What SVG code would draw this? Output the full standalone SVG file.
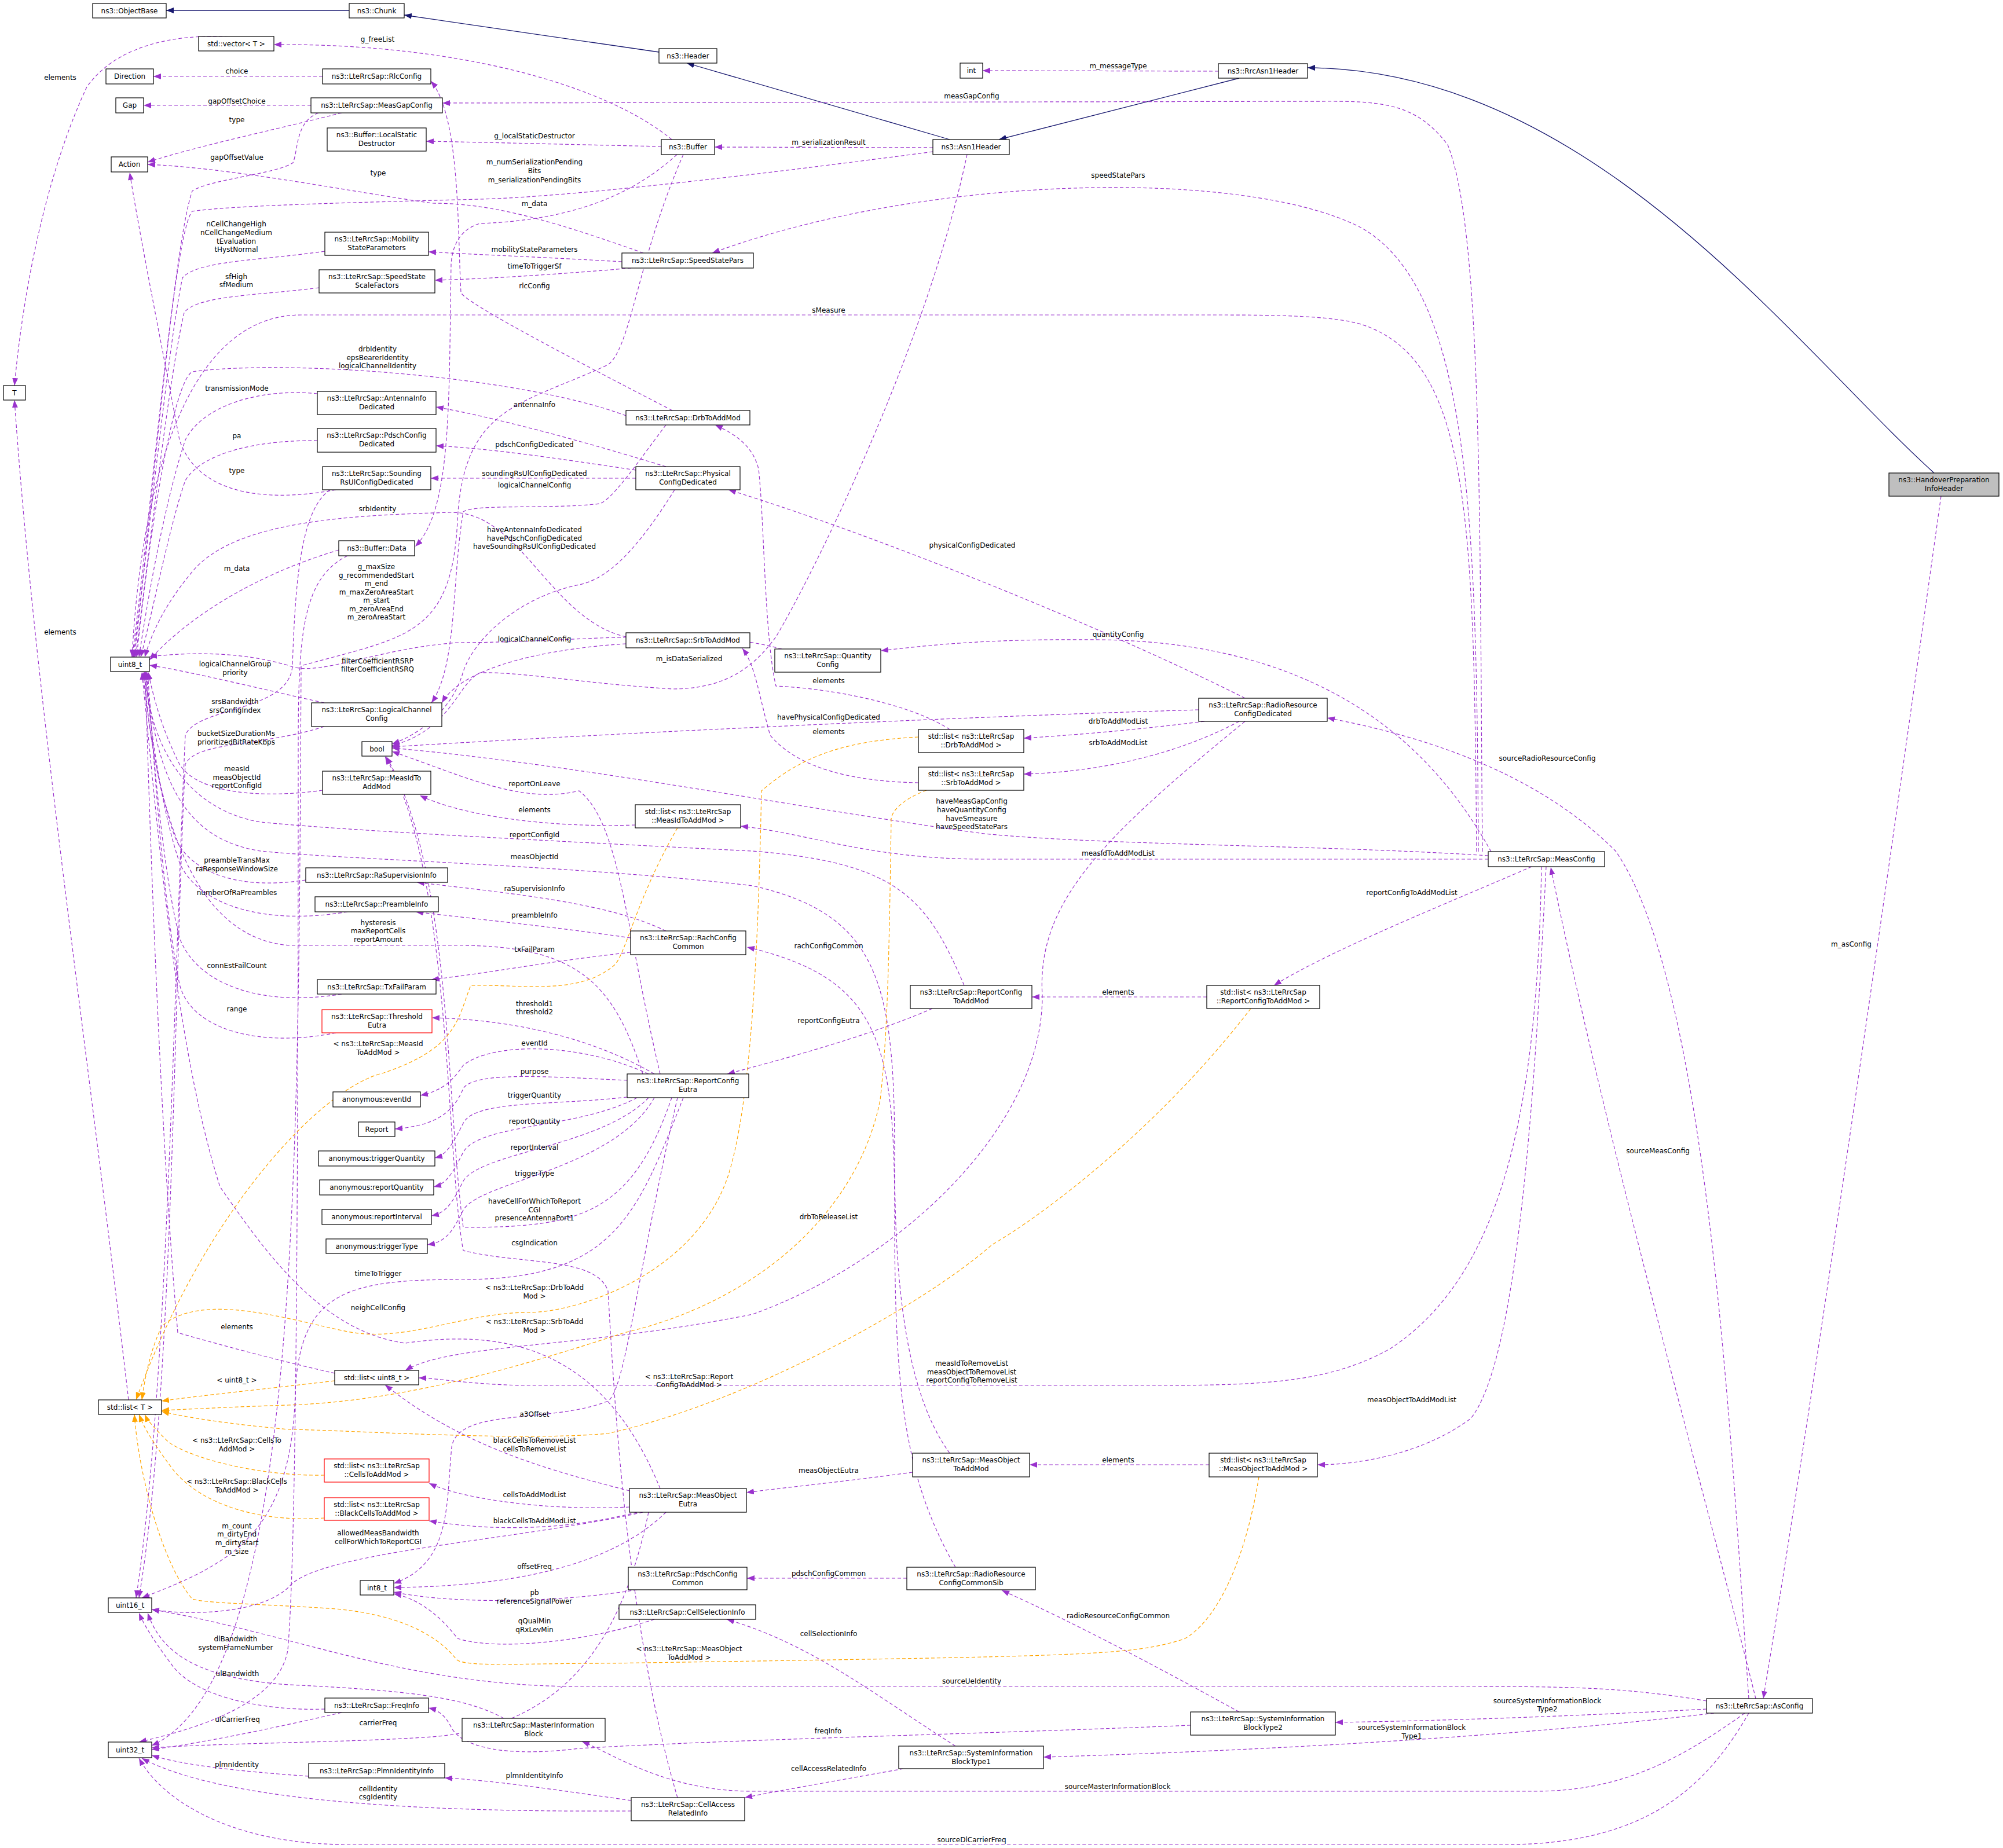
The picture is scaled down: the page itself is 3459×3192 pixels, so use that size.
<svg xmlns="http://www.w3.org/2000/svg" width="3459" height="3192" viewBox="0 0 3459 3192">
<style>
text{font-family:"DejaVu Sans","Liberation Sans",sans-serif;font-size:12px;fill:#000}
.nt{text-anchor:middle}
.l{text-anchor:middle}
rect{fill:#fff;stroke:#000;stroke-width:1.2}
rect.r{stroke:#ff0000}
rect.g{fill:#bfbfbf}
.e{fill:none;stroke:#9a32cd;stroke-width:1.2;stroke-dasharray:6,4;marker-end:url(#mp)}
.n{fill:none;stroke:#191970;stroke-width:1.3;marker-end:url(#mn)}
.o{fill:none;stroke:#ffa500;stroke-width:1.2;stroke-dasharray:6,4;marker-end:url(#mo)}
</style>
<defs>
<marker id="mp" markerUnits="userSpaceOnUse" markerWidth="14" markerHeight="10" refX="13" refY="5" orient="auto"><path d="M0,0L13,5L0,10z" fill="#9a32cd"/></marker>
<marker id="mn" markerUnits="userSpaceOnUse" markerWidth="14" markerHeight="10" refX="13" refY="5" orient="auto"><path d="M0,0L13,5L0,10z" fill="#191970"/></marker>
<marker id="mo" markerUnits="userSpaceOnUse" markerWidth="14" markerHeight="10" refX="13" refY="5" orient="auto"><path d="M0,0L13,5L0,10z" fill="#ffa500"/></marker>
</defs>
<rect x="0" y="0" width="3459" height="3192" style="fill:#fff;stroke:none"/>
<g id="edges">
<path class="n" d="M603,18L287,18"/>
<path class="n" d="M1138,90L698,26"/>
<path class="n" d="M1640,241L1186,109"/>
<path class="n" d="M2140,135L1725,241"/>
<path class="n" d="M3340,817C3100,600 2750,120 2258,117"/>
<path class="e" d="M2104,123L1697,122"/>
<path class="e" d="M3352,857C3290,1300 3150,2300 3045,2934"/>
<path class="e" d="M3032,2934C2950,2600 2780,2000 2678,1498"/>
<path class="e" d="M3020,2934C2990,2500 2950,1700 2790,1470C2650,1330 2450,1270 2292,1240"/>
<path class="e" d="M2947,2938C2800,2913 2700,2913 2500,2913L1000,2913C700,2913 500,2820 262,2780"/>
<path class="e" d="M2947,2952C2700,2965 2500,2972 2306,2975"/>
<path class="e" d="M2960,2959C2700,2990 2300,3020 1802,3035"/>
<path class="e" d="M3013,2959C2900,3040 2800,3094 2650,3094L1300,3094C1150,3094 1060,3030 1005,3008"/>
<path class="e" d="M3020,2959C2950,3080 2850,3186 2600,3186L600,3186C400,3186 280,3110 240,3037"/>
<path class="e" d="M2560,1471C2555,900 2560,400 2500,250C2450,185 2400,175 2300,175L764,178"/>
<path class="e" d="M2553,1471C2550,900 2540,500 2350,393C2150,290 1600,300 1230,437"/>
<path class="e" d="M2550,1471C2545,900 2540,620 2350,560C2300,545 2200,544 2100,544L520,544C300,544 240,900 228,1135"/>
<path class="e" d="M2575,1471C2480,1300 2300,1110 1900,1105C1700,1103 1600,1115 1521,1124"/>
<path class="e" d="M2570,1478C2300,1460 1900,1460 1700,1440C1400,1400 1000,1320 677,1292"/>
<path class="e" d="M2570,1484L1700,1484C1500,1484 1400,1440 1279,1427"/>
<path class="e" d="M2645,1497C2500,1560 2300,1640 2200,1702"/>
<path class="e" d="M2670,1497C2650,1900 2620,2350 2540,2450C2460,2510 2350,2530 2275,2530"/>
<path class="e" d="M2662,1497C2655,1900 2600,2200 2400,2330C2300,2385 2200,2393 2000,2393L900,2393C800,2390 760,2381 723,2380"/>
<path class="e" d="M2150,1206C1900,1080 1500,920 1258,846"/>
<path class="e" d="M2070,1226C1600,1240 1000,1270 677,1290"/>
<path class="e" d="M2080,1246C1950,1262 1850,1270 1768,1275"/>
<path class="e" d="M2140,1246C2000,1320 1850,1335 1768,1337"/>
<path class="e" d="M2150,1246C1900,1450 1790,1560 1800,1720C1800,1950 1550,2180 1300,2270C1000,2330 780,2320 700,2367"/>
<path class="e" d="M1640,1260C1580,1220 1450,1190 1340,1185C1320,1100 1320,900 1310,810C1300,770 1270,750 1235,734"/>
<path class="e" d="M1586,1352C1480,1350 1380,1330 1330,1270C1310,1200 1305,1150 1282,1120"/>
<path class="e" d="M1097,1425C950,1430 800,1410 725,1374"/>
<path class="e" d="M2084,1722L1782,1722"/>
<path class="e" d="M2088,2530L1778,2530"/>
<path class="e" d="M1610,1742C1500,1790 1350,1830 1256,1855"/>
<path class="e" d="M1576,2543C1450,2560 1350,2570 1289,2578"/>
<path class="e" d="M1566,2726L1290,2726"/>
<path class="e" d="M1650,2707C1560,2550 1545,2400 1545,2100C1545,1800 1520,1690 1290,1636"/>
<path class="e" d="M2140,2957C2000,2880 1850,2800 1730,2747"/>
<path class="e" d="M2056,2980C1700,2995 1300,3003 1000,3020C880,3035 800,3020 780,2985C770,2965 760,2955 740,2950"/>
<path class="e" d="M1650,3016C1500,2920 1400,2840 1255,2797"/>
<path class="e" d="M1560,3055C1450,3075 1350,3092 1286,3105"/>
<path class="e" d="M1090,3110C950,3090 850,3075 768,3071"/>
<path class="e" d="M1090,3128C800,3130 400,3120 245,3037"/>
<path class="e" d="M1170,3105C1080,2800 1060,2400 1050,2230C1030,2170 900,2185 800,2160C770,2000 780,1500 665,1307"/>
<path class="e" d="M533,3068C420,3060 320,3050 262,3032"/>
<path class="e" d="M590,2958C450,2990 350,3010 262,3022"/>
<path class="e" d="M561,2952C480,2955 350,2940 300,2880C270,2840 250,2810 240,2786"/>
<path class="e" d="M870,2968C800,2930 700,2920 500,2910C350,2900 280,2860 255,2786"/>
<path class="e" d="M1120,2612C1080,2800 1000,2980 746,3000C600,3010 400,3010 262,3019"/>
<path class="e" d="M1150,2612C1060,2700 900,2740 680,2742"/>
<path class="e" d="M1100,2746C950,2770 780,2770 680,2750"/>
<path class="e" d="M1130,2797C1000,2840 850,2850 790,2830C760,2790 720,2760 680,2753"/>
<path class="e" d="M1110,2612C900,2660 550,2680 500,2740C450,2790 320,2790 262,2780"/>
<path class="e" d="M1087,2603C950,2610 800,2590 741,2562"/>
<path class="e" d="M1100,2612C950,2650 820,2640 741,2627"/>
<path class="e" d="M1087,2575C950,2540 800,2500 665,2392"/>
<path class="e" d="M1170,1896C1100,2200 1080,2400 1050,2420C950,2460 790,2430 780,2500C770,2600 780,2700 680,2735"/>
<path class="e" d="M1140,2571C1050,2350 900,2290 700,2320C550,2300 450,2150 380,2050C300,1800 270,1400 245,1161"/>
<path class="e" d="M1180,1896C1100,2100 1060,2210 800,2210C600,2210 520,2230 510,2400C505,2650 400,2700 245,2760"/>
<path class="e" d="M1160,1896C1090,2100 1000,2120 800,2120C770,1900 780,1500 667,1307"/>
<path class="e" d="M1140,1855C1080,1600 1070,1420 1000,1366C900,1390 800,1340 677,1298"/>
<path class="e" d="M1130,1855C1000,1780 850,1760 746,1758"/>
<path class="e" d="M1120,1855C1000,1800 850,1800 800,1840C780,1870 760,1885 726,1892"/>
<path class="e" d="M1083,1866C950,1860 820,1850 800,1880C780,1930 740,1945 682,1950"/>
<path class="e" d="M1083,1895C950,1910 820,1900 800,1940C780,1980 770,1995 751,2000"/>
<path class="e" d="M1100,1896C1000,1950 830,1940 800,1990C780,2030 770,2045 749,2050"/>
<path class="e" d="M1120,1896C1040,1980 830,1990 800,2040C780,2080 770,2095 745,2100"/>
<path class="e" d="M1130,1896C1060,2020 830,2040 800,2090C780,2130 770,2145 738,2150"/>
<path class="e" d="M1110,1855C1060,1700 1000,1635 800,1633L500,1633C330,1620 270,1400 247,1161"/>
<path class="e" d="M1150,1608C1050,1560 900,1545 720,1524"/>
<path class="e" d="M1089,1620C950,1600 800,1585 718,1575"/>
<path class="e" d="M1089,1645C950,1660 850,1680 745,1692"/>
<path class="e" d="M528,1520C400,1540 320,1500 300,1440C270,1350 255,1250 249,1161"/>
<path class="e" d="M600,1575C450,1600 340,1560 310,1490C280,1400 262,1280 251,1161"/>
<path class="e" d="M590,1717C450,1740 340,1700 310,1620C280,1500 265,1300 253,1161"/>
<path class="e" d="M580,1784C450,1810 330,1780 310,1700C280,1550 265,1300 255,1161"/>
<path class="e" d="M557,1365C450,1380 340,1370 310,1320C285,1270 268,1220 256,1161"/>
<path class="e" d="M1665,1702C1600,1550 1550,1490 1300,1470C1000,1455 600,1435 450,1420C330,1400 260,1300 250,1161"/>
<path class="e" d="M1640,2510C1560,2400 1545,2200 1545,2000C1545,1700 1520,1580 1300,1530C1000,1495 600,1485 450,1470C320,1450 270,1350 252,1161"/>
<path class="e" d="M560,1214C450,1190 330,1160 258,1149"/>
<path class="e" d="M560,1255C450,1290 340,1280 320,1320C300,1700 300,2400 240,2760"/>
<path class="e" d="M570,846C520,880 510,1000 505,1150C500,1230 340,1220 320,1270C300,1700 290,2400 235,2760"/>
<path class="e" d="M580,846C450,870 340,850 310,760C280,600 240,400 224,298"/>
<path class="e" d="M590,195C450,230 350,250 255,280"/>
<path class="e" d="M537,182L248,182"/>
<path class="e" d="M550,195C510,210 515,260 506,281C480,300 360,310 332,330C300,420 260,900 232,1135"/>
<path class="e" d="M557,132L265,132"/>
<path class="e" d="M1161,709C950,600 800,520 796,505C790,400 795,200 744,140"/>
<path class="e" d="M1081,718C900,650 500,620 332,642C300,660 260,900 236,1135"/>
<path class="e" d="M1150,734C1100,800 1060,860 1036,870C950,880 820,870 800,884C780,1000 790,1150 745,1214"/>
<path class="e" d="M1081,1112C950,1120 800,1150 763,1214"/>
<path class="e" d="M1081,1100C950,1070 900,885 780,885C600,890 400,900 330,990C280,1050 260,1100 250,1135"/>
<path class="e" d="M1150,806C1000,760 850,720 753,703"/>
<path class="e" d="M1098,812C950,790 850,775 753,770"/>
<path class="e" d="M1098,826L744,826"/>
<path class="e" d="M1165,846C1100,950 1050,1000 1000,1010C900,1030 820,1100 800,1160C780,1230 720,1270 677,1285"/>
<path class="e" d="M548,680C450,670 350,700 320,760C290,850 260,1000 240,1135"/>
<path class="e" d="M548,761C450,760 350,780 320,830C295,900 265,1050 243,1135"/>
<path class="e" d="M561,434C450,450 340,450 315,480C290,600 255,950 230,1135"/>
<path class="e" d="M551,497C450,510 340,510 318,540C292,650 258,950 234,1135"/>
<path class="e" d="M1074,452C950,445 830,440 740,435"/>
<path class="e" d="M1090,463C950,475 830,482 751,484"/>
<path class="e" d="M1111,437C950,380 850,351 746,351C600,330 400,290 255,284"/>
<path class="e" d="M1142,253C1000,250 850,246 736,244"/>
<path class="e" d="M1160,241C1050,150 800,75 473,77"/>
<path class="e" d="M1169,267C1100,330 1000,380 829,386C780,400 780,450 779,456C775,700 780,880 717,944"/>
<path class="e" d="M1180,267C1100,450 1090,600 1050,630C900,700 800,700 790,900C780,1100 700,1100 520,1150C515,2000 520,2900 262,3015"/>
<path class="e" d="M1611,255L1234,254"/>
<path class="e" d="M1611,262C1400,290 1000,340 829,344C600,350 400,355 332,365C300,400 260,900 228,1135"/>
<path class="e" d="M1670,267C1600,600 1400,1000 1340,1100C1300,1155 1250,1190 1161,1190C1000,1180 900,1160 829,1162C790,1180 780,1260 677,1288"/>
<path class="e" d="M585,950C450,990 330,1060 258,1140"/>
<path class="e" d="M600,960C520,1000 515,1100 515,1300C515,2200 510,2700 497,2850C480,2950 320,2990 240,3009"/>
<path class="e" d="M1350,1121C1200,1080 1000,1110 790,1110C650,1120 550,1170 500,1150C400,1120 300,1130 258,1134"/>
<path class="e" d="M414,65C300,55 200,80 150,150C80,300 40,500 25,666"/>
<path class="e" d="M222,2418C150,1800 60,1200 25,691"/>
<path class="e" d="M578,2372C480,2350 370,2320 307,2302C280,2000 260,1500 251,1161"/>
<path class="o" d="M578,2385C450,2400 350,2410 279,2420"/>
<path class="o" d="M560,2548C450,2550 330,2520 290,2490C270,2470 255,2455 250,2443"/>
<path class="o" d="M560,2622C450,2630 350,2600 300,2540C270,2500 250,2470 240,2443"/>
<path class="o" d="M1170,1430C1100,1550 1080,1650 1061,1667C1000,1720 900,1700 813,1702C790,1760 790,1810 663,1853C550,1880 350,2100 235,2418"/>
<path class="o" d="M1586,1273C1450,1280 1380,1310 1315,1366C1310,1600 1300,1900 1257,2032C1200,2200 1000,2267 912,2267C800,2267 700,2320 600,2300C500,2280 350,2230 280,2290C260,2330 250,2380 245,2418"/>
<path class="o" d="M1600,1365C1560,1380 1540,1400 1539,1415C1535,1700 1531,1800 1520,1900C1480,2100 1300,2250 1078,2302C900,2360 700,2420 498,2427C400,2430 330,2434 279,2436"/>
<path class="o" d="M2160,1742C2000,1950 1800,2100 1713,2150C1600,2250 1300,2420 1050,2476C900,2490 600,2470 498,2469C400,2460 330,2450 279,2438"/>
<path class="o" d="M2174,2551C2150,2700 2100,2800 2045,2831C1950,2860 1900,2860 1050,2873C900,2873 800,2880 788,2866C760,2830 700,2790 580,2779C450,2770 360,2770 332,2762C280,2700 240,2550 232,2443"/>
</g>
<g id="labels">
<text class="l" x="1931" y="118">m_messageType</text>
<text class="l" x="3197" y="1635">m_asConfig</text>
<text class="l" x="2863" y="1992">sourceMeasConfig</text>
<text class="l" x="2672" y="1314">sourceRadioResourceConfig</text>
<text class="l" x="1678" y="2908">sourceUeIdentity</text>
<text class="l" x="2672" y="2942">sourceSystemInformationBlock<tspan x="2672" dy="14">Type2</tspan></text>
<text class="l" x="2438" y="2988">sourceSystemInformationBlock<tspan x="2438" dy="15">Type1</tspan></text>
<text class="l" x="1930" y="3090">sourceMasterInformationBlock</text>
<text class="l" x="1678" y="3182">sourceDlCarrierFreq</text>
<text class="l" x="1678" y="170">measGapConfig</text>
<text class="l" x="1931" y="307">speedStatePars</text>
<text class="l" x="1431" y="540">sMeasure</text>
<text class="l" x="1931" y="1100">quantityConfig</text>
<text class="l" x="1678" y="1388">haveMeasGapConfig<tspan x="1678" dy="15">haveQuantityConfig</tspan><tspan x="1678" dy="15">haveSmeasure</tspan><tspan x="1678" dy="14">haveSpeedStatePars</tspan></text>
<text class="l" x="1931" y="1478">measIdToAddModList</text>
<text class="l" x="2438" y="1546">reportConfigToAddModList</text>
<text class="l" x="2438" y="2422">measObjectToAddModList</text>
<text class="l" x="1678" y="2359">measIdToRemoveList<tspan x="1678" dy="15">measObjectToRemoveList</tspan><tspan x="1678" dy="14">reportConfigToRemoveList</tspan></text>
<text class="l" x="1679" y="946">physicalConfigDedicated</text>
<text class="l" x="1431" y="1243">havePhysicalConfigDedicated</text>
<text class="l" x="1931" y="1250">drbToAddModList</text>
<text class="l" x="1931" y="1287">srbToAddModList</text>
<text class="l" x="1431" y="2106">drbToReleaseList</text>
<text class="l" x="1431" y="1180">elements</text>
<text class="l" x="1431" y="1268">elements</text>
<text class="l" x="923" y="1403">elements</text>
<text class="l" x="1931" y="1718">elements</text>
<text class="l" x="1931" y="2526">elements</text>
<text class="l" x="1431" y="1767">reportConfigEutra</text>
<text class="l" x="1431" y="2544">measObjectEutra</text>
<text class="l" x="1431" y="2722">pdschConfigCommon</text>
<text class="l" x="1431" y="1638">rachConfigCommon</text>
<text class="l" x="1931" y="2795">radioResourceConfigCommon</text>
<text class="l" x="1430" y="2994">freqInfo</text>
<text class="l" x="1431" y="2826">cellSelectionInfo</text>
<text class="l" x="1431" y="3059">cellAccessRelatedInfo</text>
<text class="l" x="923" y="3071">plmnIdentityInfo</text>
<text class="l" x="653" y="3094">cellIdentity<tspan x="653" dy="14">csgIdentity</tspan></text>
<text class="l" x="923" y="2151">csgIndication</text>
<text class="l" x="409" y="3052">plmnIdentity</text>
<text class="l" x="410" y="2974">ulCarrierFreq</text>
<text class="l" x="410" y="2895">ulBandwidth</text>
<text class="l" x="407" y="2835">dlBandwidth<tspan x="407" dy="15">systemFrameNumber</tspan></text>
<text class="l" x="653" y="2980">carrierFreq</text>
<text class="l" x="923" y="2710">offsetFreq</text>
<text class="l" x="923" y="2755">pb<tspan x="923" dy="15">referenceSignalPower</tspan></text>
<text class="l" x="923" y="2804">qQualMin<tspan x="923" dy="15">qRxLevMin</tspan></text>
<text class="l" x="653" y="2652">allowedMeasBandwidth<tspan x="653" dy="15">cellForWhichToReportCGI</tspan></text>
<text class="l" x="923" y="2586">cellsToAddModList</text>
<text class="l" x="923" y="2631">blackCellsToAddModList</text>
<text class="l" x="923" y="2492">blackCellsToRemoveList<tspan x="923" dy="15">cellsToRemoveList</tspan></text>
<text class="l" x="923" y="2447">a3Offset</text>
<text class="l" x="653" y="2263">neighCellConfig</text>
<text class="l" x="653" y="2204">timeToTrigger</text>
<text class="l" x="923" y="2079">haveCellForWhichToReport<tspan x="923" dy="15">CGI</tspan><tspan x="923" dy="14">presenceAntennaPort1</tspan></text>
<text class="l" x="923" y="1358">reportOnLeave</text>
<text class="l" x="923" y="1738">threshold1<tspan x="923" dy="14">threshold2</tspan></text>
<text class="l" x="923" y="1806">eventId</text>
<text class="l" x="923" y="1855">purpose</text>
<text class="l" x="923" y="1896">triggerQuantity</text>
<text class="l" x="923" y="1941">reportQuantity</text>
<text class="l" x="923" y="1986">reportInterval</text>
<text class="l" x="923" y="2031">triggerType</text>
<text class="l" x="653" y="1598">hysteresis<tspan x="653" dy="14">maxReportCells</tspan><tspan x="653" dy="15">reportAmount</tspan></text>
<text class="l" x="923" y="1539">raSupervisionInfo</text>
<text class="l" x="923" y="1585">preambleInfo</text>
<text class="l" x="923" y="1644">txFailParam</text>
<text class="l" x="409" y="1490">preambleTransMax<tspan x="409" dy="15">raResponseWindowSize</tspan></text>
<text class="l" x="409" y="1546">numberOfRaPreambles</text>
<text class="l" x="409" y="1672">connEstFailCount</text>
<text class="l" x="409" y="1747">range</text>
<text class="l" x="409" y="1332">measId<tspan x="409" dy="15">measObjectId</tspan><tspan x="409" dy="14">reportConfigId</tspan></text>
<text class="l" x="923" y="1446">reportConfigId</text>
<text class="l" x="923" y="1484">measObjectId</text>
<text class="l" x="406" y="1151">logicalChannelGroup<tspan x="406" dy="15">priority</tspan></text>
<text class="l" x="408" y="1271">bucketSizeDurationMs<tspan x="408" dy="15">prioritizedBitRateKbps</tspan></text>
<text class="l" x="406" y="1216">srsBandwidth<tspan x="406" dy="15">srsConfigIndex</tspan></text>
<text class="l" x="409" y="817">type</text>
<text class="l" x="409" y="211">type</text>
<text class="l" x="409" y="179">gapOffsetChoice</text>
<text class="l" x="409" y="276">gapOffsetValue</text>
<text class="l" x="409" y="127">choice</text>
<text class="l" x="923" y="498">rlcConfig</text>
<text class="l" x="652" y="607">drbIdentity<tspan x="652" dy="15">epsBearerIdentity</tspan><tspan x="652" dy="14">logicalChannelIdentity</tspan></text>
<text class="l" x="923" y="842">logicalChannelConfig</text>
<text class="l" x="923" y="1108">logicalChannelConfig</text>
<text class="l" x="652" y="883">srbIdentity</text>
<text class="l" x="923" y="703">antennaInfo</text>
<text class="l" x="923" y="772">pdschConfigDedicated</text>
<text class="l" x="923" y="822">soundingRsUlConfigDedicated</text>
<text class="l" x="923" y="919">haveAntennaInfoDedicated<tspan x="923" dy="15">havePdschConfigDedicated</tspan><tspan x="923" dy="14">haveSoundingRsUlConfigDedicated</tspan></text>
<text class="l" x="409" y="675">transmissionMode</text>
<text class="l" x="409" y="757">pa</text>
<text class="l" x="408" y="391">nCellChangeHigh<tspan x="408" dy="15">nCellChangeMedium</tspan><tspan x="408" dy="15">tEvaluation</tspan><tspan x="408" dy="14">tHystNormal</tspan></text>
<text class="l" x="408" y="482">sfHigh<tspan x="408" dy="14">sfMedium</tspan></text>
<text class="l" x="923" y="435">mobilityStateParameters</text>
<text class="l" x="923" y="464">timeToTriggerSf</text>
<text class="l" x="653" y="303">type</text>
<text class="l" x="923" y="239">g_localStaticDestructor</text>
<text class="l" x="652" y="72">g_freeList</text>
<text class="l" x="923" y="356">m_data</text>
<text class="l" x="650" y="983">g_maxSize<tspan x="650" dy="15">g_recommendedStart</tspan><tspan x="650" dy="14">m_end</tspan><tspan x="650" dy="15">m_maxZeroAreaStart</tspan><tspan x="650" dy="14">m_start</tspan><tspan x="650" dy="15">m_zeroAreaEnd</tspan><tspan x="650" dy="14">m_zeroAreaStart</tspan></text>
<text class="l" x="1431" y="250">m_serializationResult</text>
<text class="l" x="923" y="284">m_numSerializationPending<tspan x="923" dy="15">Bits</tspan><tspan x="923" dy="16">m_serializationPendingBits</tspan></text>
<text class="l" x="1190" y="1142">m_isDataSerialized</text>
<text class="l" x="409" y="986">m_data</text>
<text class="l" x="409" y="2640">m_count<tspan x="409" dy="14">m_dirtyEnd</tspan><tspan x="409" dy="15">m_dirtyStart</tspan><tspan x="409" dy="15">m_size</tspan></text>
<text class="l" x="652" y="1146">filterCoefficientRSRP<tspan x="652" dy="14">filterCoefficientRSRQ</tspan></text>
<text class="l" x="104" y="138">elements</text>
<text class="l" x="104" y="1096">elements</text>
<text class="l" x="409" y="2296">elements</text>
<text class="l" x="409" y="2388">&lt; uint8_t &gt;</text>
<text class="l" x="409" y="2492">&lt; ns3::LteRrcSap::CellsTo<tspan x="409" dy="15">AddMod &gt;</tspan></text>
<text class="l" x="409" y="2563">&lt; ns3::LteRrcSap::BlackCells<tspan x="409" dy="15">ToAddMod &gt;</tspan></text>
<text class="l" x="653" y="1807">&lt; ns3::LteRrcSap::MeasId<tspan x="653" dy="15">ToAddMod &gt;</tspan></text>
<text class="l" x="923" y="2228">&lt; ns3::LteRrcSap::DrbToAdd<tspan x="923" dy="15">Mod &gt;</tspan></text>
<text class="l" x="923" y="2287">&lt; ns3::LteRrcSap::SrbToAdd<tspan x="923" dy="15">Mod &gt;</tspan></text>
<text class="l" x="1190" y="2382">&lt; ns3::LteRrcSap::Report<tspan x="1190" dy="14">ConfigToAddMod &gt;</tspan></text>
<text class="l" x="1190" y="2852">&lt; ns3::LteRrcSap::MeasObject<tspan x="1190" dy="15">ToAddMod &gt;</tspan></text>
</g>
<g id="n_ObjectBase"><rect x="160" y="6" width="127" height="25"/><text class="nt" x="223.5" y="23">ns3::ObjectBase</text></g>
<g id="n_Chunk"><rect x="603" y="6" width="95" height="25"/><text class="nt" x="650.5" y="23">ns3::Chunk</text></g>
<g id="n_vector"><rect x="343" y="63" width="130" height="25"/><text class="nt" x="408" y="80">std::vector&lt; T &gt;</text></g>
<g id="n_Header"><rect x="1138" y="84" width="100" height="25"/><text class="nt" x="1188" y="101">ns3::Header</text></g>
<g id="n_Direction"><rect x="183" y="119" width="82" height="26"/><text class="nt" x="224" y="136">Direction</text></g>
<g id="n_RlcConfig"><rect x="557" y="119" width="187" height="26"/><text class="nt" x="650.5" y="136">ns3::LteRrcSap::RlcConfig</text></g>
<g id="n_Gap"><rect x="200" y="169" width="48" height="26"/><text class="nt" x="224" y="186">Gap</text></g>
<g id="n_MeasGapConfig"><rect x="537" y="169" width="227" height="26"/><text class="nt" x="650.5" y="186">ns3::LteRrcSap::MeasGapConfig</text></g>
<g id="n_LocalStatic"><rect x="565" y="221" width="171" height="40"/><text class="nt" x="650.5" y="237">ns3::Buffer::LocalStatic<tspan x="650.5" dy="15">Destructor</tspan></text></g>
<g id="n_Buffer"><rect x="1142" y="241" width="92" height="26"/><text class="nt" x="1188" y="258">ns3::Buffer</text></g>
<g id="n_Action"><rect x="192" y="271" width="63" height="26"/><text class="nt" x="223.5" y="288">Action</text></g>
<g id="n_Mobility"><rect x="561" y="401" width="179" height="40"/><text class="nt" x="650.5" y="417">ns3::LteRrcSap::Mobility<tspan x="650.5" dy="15">StateParameters</tspan></text></g>
<g id="n_SpeedStatePars"><rect x="1074" y="437" width="227" height="26"/><text class="nt" x="1187.5" y="454">ns3::LteRrcSap::SpeedStatePars</text></g>
<g id="n_SpeedStateScale"><rect x="551" y="466" width="200" height="40"/><text class="nt" x="651" y="482">ns3::LteRrcSap::SpeedState<tspan x="651" dy="15">ScaleFactors</tspan></text></g>
<g id="n_T"><rect x="6" y="666" width="38" height="25"/><text class="nt" x="25" y="683">T</text></g>
<g id="n_AntennaInfo"><rect x="548" y="676" width="205" height="40"/><text class="nt" x="650.5" y="692">ns3::LteRrcSap::AntennaInfo<tspan x="650.5" dy="15">Dedicated</tspan></text></g>
<g id="n_DrbToAddMod"><rect x="1081" y="709" width="214" height="25"/><text class="nt" x="1188" y="726">ns3::LteRrcSap::DrbToAddMod</text></g>
<g id="n_PdschDed"><rect x="548" y="740" width="205" height="41"/><text class="nt" x="650.5" y="756">ns3::LteRrcSap::PdschConfig<tspan x="650.5" dy="15">Dedicated</tspan></text></g>
<g id="n_Sounding"><rect x="557" y="806" width="187" height="40"/><text class="nt" x="650.5" y="822">ns3::LteRrcSap::Sounding<tspan x="650.5" dy="15">RsUlConfigDedicated</tspan></text></g>
<g id="n_PhysDed"><rect x="1098" y="806" width="180" height="40"/><text class="nt" x="1188" y="822">ns3::LteRrcSap::Physical<tspan x="1188" dy="15">ConfigDedicated</tspan></text></g>
<g id="n_BufferData"><rect x="585" y="934" width="131" height="26"/><text class="nt" x="650.5" y="951">ns3::Buffer::Data</text></g>
<g id="n_SrbToAddMod"><rect x="1081" y="1093" width="214" height="26"/><text class="nt" x="1188" y="1110">ns3::LteRrcSap::SrbToAddMod</text></g>
<g id="n_uint8"><rect x="191" y="1135" width="67" height="25"/><text class="nt" x="224.5" y="1152">uint8_t</text></g>
<g id="n_QuantityConfig"><rect x="1338" y="1121" width="183" height="40"/><text class="nt" x="1429.5" y="1137">ns3::LteRrcSap::Quantity<tspan x="1429.5" dy="15">Config</tspan></text></g>
<g id="n_RRCD"><rect x="2070" y="1206" width="222" height="40"/><text class="nt" x="2181" y="1222">ns3::LteRrcSap::RadioResource<tspan x="2181" dy="15">ConfigDedicated</tspan></text></g>
<g id="n_LCC"><rect x="538" y="1214" width="225" height="41"/><text class="nt" x="650.5" y="1230">ns3::LteRrcSap::LogicalChannel<tspan x="650.5" dy="15">Config</tspan></text></g>
<g id="n_listDrb"><rect x="1586" y="1260" width="182" height="40"/><text class="nt" x="1677" y="1276">std::list&lt; ns3::LteRrcSap<tspan x="1677" dy="15">::DrbToAddMod &gt;</tspan></text></g>
<g id="n_bool"><rect x="625" y="1281" width="52" height="25"/><text class="nt" x="651" y="1298">bool</text></g>
<g id="n_listSrb"><rect x="1586" y="1325" width="182" height="40"/><text class="nt" x="1677" y="1341">std::list&lt; ns3::LteRrcSap<tspan x="1677" dy="15">::SrbToAddMod &gt;</tspan></text></g>
<g id="n_MeasIdToAddMod"><rect x="557" y="1332" width="187" height="40"/><text class="nt" x="650.5" y="1348">ns3::LteRrcSap::MeasIdTo<tspan x="650.5" dy="15">AddMod</tspan></text></g>
<g id="n_listMeasId"><rect x="1097" y="1390" width="182" height="40"/><text class="nt" x="1188" y="1406">std::list&lt; ns3::LteRrcSap<tspan x="1188" dy="15">::MeasIdToAddMod &gt;</tspan></text></g>
<g id="n_MeasConfig"><rect x="2570" y="1471" width="201" height="26"/><text class="nt" x="2670.5" y="1488">ns3::LteRrcSap::MeasConfig</text></g>
<g id="n_RaSup"><rect x="528" y="1499" width="245" height="25"/><text class="nt" x="650.5" y="1516">ns3::LteRrcSap::RaSupervisionInfo</text></g>
<g id="n_Preamble"><rect x="544" y="1549" width="213" height="26"/><text class="nt" x="650.5" y="1566">ns3::LteRrcSap::PreambleInfo</text></g>
<g id="n_Rach"><rect x="1089" y="1608" width="199" height="41"/><text class="nt" x="1188.5" y="1624">ns3::LteRrcSap::RachConfig<tspan x="1188.5" dy="15">Common</tspan></text></g>
<g id="n_TxFail"><rect x="548" y="1692" width="205" height="25"/><text class="nt" x="650.5" y="1709">ns3::LteRrcSap::TxFailParam</text></g>
<g id="n_RCTAM"><rect x="1572" y="1702" width="210" height="40"/><text class="nt" x="1677" y="1718">ns3::LteRrcSap::ReportConfig<tspan x="1677" dy="15">ToAddMod</tspan></text></g>
<g id="n_listRCTAM"><rect x="2084" y="1702" width="195" height="40"/><text class="nt" x="2181.5" y="1718">std::list&lt; ns3::LteRrcSap<tspan x="2181.5" dy="15">::ReportConfigToAddMod &gt;</tspan></text></g>
<g id="n_Threshold"><rect class="r" x="556" y="1744" width="190" height="40"/><text class="nt" x="651" y="1760">ns3::LteRrcSap::Threshold<tspan x="651" dy="15">Eutra</tspan></text></g>
<g id="n_RCE"><rect x="1083" y="1855" width="210" height="41"/><text class="nt" x="1188" y="1871">ns3::LteRrcSap::ReportConfig<tspan x="1188" dy="15">Eutra</tspan></text></g>
<g id="n_eventId"><rect x="575" y="1886" width="151" height="26"/><text class="nt" x="650.5" y="1903">anonymous:eventId</text></g>
<g id="n_Report"><rect x="619" y="1938" width="63" height="25"/><text class="nt" x="650.5" y="1955">Report</text></g>
<g id="n_trigQ"><rect x="550" y="1988" width="201" height="26"/><text class="nt" x="650.5" y="2005">anonymous:triggerQuantity</text></g>
<g id="n_repQ"><rect x="552" y="2038" width="197" height="26"/><text class="nt" x="650.5" y="2055">anonymous:reportQuantity</text></g>
<g id="n_repI"><rect x="556" y="2089" width="189" height="26"/><text class="nt" x="650.5" y="2106">anonymous:reportInterval</text></g>
<g id="n_trigT"><rect x="563" y="2140" width="175" height="25"/><text class="nt" x="650.5" y="2157">anonymous:triggerType</text></g>
<g id="n_listU8"><rect x="578" y="2367" width="145" height="25"/><text class="nt" x="650.5" y="2384">std::list&lt; uint8_t &gt;</text></g>
<g id="n_listT"><rect x="170" y="2418" width="109" height="25"/><text class="nt" x="224.5" y="2435">std::list&lt; T &gt;</text></g>
<g id="n_listCells"><rect class="r" x="560" y="2520" width="181" height="40"/><text class="nt" x="650.5" y="2536">std::list&lt; ns3::LteRrcSap<tspan x="650.5" dy="15">::CellsToAddMod &gt;</tspan></text></g>
<g id="n_listBlack"><rect class="r" x="560" y="2587" width="181" height="39"/><text class="nt" x="650.5" y="2603">std::list&lt; ns3::LteRrcSap<tspan x="650.5" dy="15">::BlackCellsToAddMod &gt;</tspan></text></g>
<g id="n_MOE"><rect x="1087" y="2571" width="202" height="41"/><text class="nt" x="1188" y="2587">ns3::LteRrcSap::MeasObject<tspan x="1188" dy="15">Eutra</tspan></text></g>
<g id="n_MOTAM"><rect x="1576" y="2510" width="202" height="41"/><text class="nt" x="1677" y="2526">ns3::LteRrcSap::MeasObject<tspan x="1677" dy="15">ToAddMod</tspan></text></g>
<g id="n_listMOTAM"><rect x="2088" y="2510" width="187" height="41"/><text class="nt" x="2181.5" y="2526">std::list&lt; ns3::LteRrcSap<tspan x="2181.5" dy="15">::MeasObjectToAddMod &gt;</tspan></text></g>
<g id="n_PdschCommon"><rect x="1085" y="2707" width="205" height="39"/><text class="nt" x="1187.5" y="2723">ns3::LteRrcSap::PdschConfig<tspan x="1187.5" dy="15">Common</tspan></text></g>
<g id="n_RRCCS"><rect x="1566" y="2707" width="222" height="39"/><text class="nt" x="1677" y="2723">ns3::LteRrcSap::RadioResource<tspan x="1677" dy="15">ConfigCommonSib</tspan></text></g>
<g id="n_int8"><rect x="622" y="2730" width="58" height="25"/><text class="nt" x="651" y="2747">int8_t</text></g>
<g id="n_uint16"><rect x="187" y="2760" width="75" height="25"/><text class="nt" x="224.5" y="2777">uint16_t</text></g>
<g id="n_CellSel"><rect x="1069" y="2772" width="236" height="25"/><text class="nt" x="1187" y="2789">ns3::LteRrcSap::CellSelectionInfo</text></g>
<g id="n_FreqInfo"><rect x="561" y="2933" width="179" height="25"/><text class="nt" x="650.5" y="2950">ns3::LteRrcSap::FreqInfo</text></g>
<g id="n_SIB2"><rect x="2056" y="2957" width="250" height="40"/><text class="nt" x="2181" y="2973">ns3::LteRrcSap::SystemInformation<tspan x="2181" dy="15">BlockType2</tspan></text></g>
<g id="n_AsConfig"><rect x="2947" y="2934" width="183" height="25"/><text class="nt" x="3038.5" y="2951">ns3::LteRrcSap::AsConfig</text></g>
<g id="n_MIB"><rect x="798" y="2968" width="247" height="40"/><text class="nt" x="921.5" y="2984">ns3::LteRrcSap::MasterInformation<tspan x="921.5" dy="15">Block</tspan></text></g>
<g id="n_uint32"><rect x="187" y="3009" width="75" height="27"/><text class="nt" x="224.5" y="3027">uint32_t</text></g>
<g id="n_SIB1"><rect x="1552" y="3016" width="250" height="39"/><text class="nt" x="1677" y="3032">ns3::LteRrcSap::SystemInformation<tspan x="1677" dy="15">BlockType1</tspan></text></g>
<g id="n_Plmn"><rect x="533" y="3046" width="235" height="25"/><text class="nt" x="650.5" y="3063">ns3::LteRrcSap::PlmnIdentityInfo</text></g>
<g id="n_CARI"><rect x="1090" y="3105" width="196" height="40"/><text class="nt" x="1188" y="3121">ns3::LteRrcSap::CellAccess<tspan x="1188" dy="15">RelatedInfo</tspan></text></g>
<g id="n_int"><rect x="1658" y="109" width="39" height="26"/><text class="nt" x="1677.5" y="126">int</text></g>
<g id="n_RrcAsn1Header"><rect x="2104" y="110" width="154" height="25"/><text class="nt" x="2181" y="127">ns3::RrcAsn1Header</text></g>
<g id="n_Asn1Header"><rect x="1611" y="241" width="132" height="26"/><text class="nt" x="1677" y="258">ns3::Asn1Header</text></g>
<g id="n_Handover"><rect class="g" x="3262" y="817" width="190" height="40"/><text class="nt" x="3357" y="833">ns3::HandoverPreparation<tspan x="3357" dy="15">InfoHeader</tspan></text></g>
</svg>
